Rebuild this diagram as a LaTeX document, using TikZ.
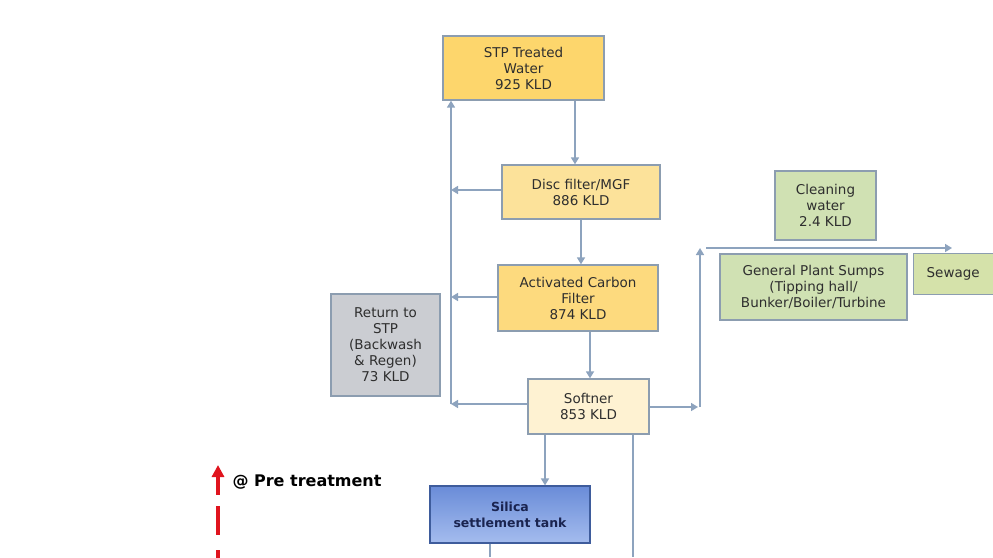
\documentclass[tikz,border=0pt]{standalone}
\usepackage{fontspec}
\setmainfont{DejaVu Sans}
\usetikzlibrary{arrows.meta}
\definecolor{linec}{HTML}{8DA3BE}
\definecolor{boxedge}{HTML}{8C9DB0}
\definecolor{gold}{HTML}{FDD66C}
\definecolor{lightgold}{HTML}{FCE29A}
\definecolor{midgold}{HTML}{FDDA7E}
\definecolor{paleyel}{HTML}{FEF2D2}
\definecolor{greybox}{HTML}{CBCDD2}
\definecolor{greenbox}{HTML}{D0E1B3}
\definecolor{sewagec}{HTML}{D5E2AA}
\definecolor{txt}{HTML}{2E2E2E}
\definecolor{silicatop}{HTML}{6A8CD8}
\definecolor{silicabot}{HTML}{A4BCEE}
\definecolor{silicaedge}{HTML}{3E5C9C}
\definecolor{navy}{HTML}{1A2450}
\definecolor{redarrow}{HTML}{E0141E}
\begin{document}
\begin{tikzpicture}[x=1pt,y=-1pt,
  box/.style={draw=boxedge,line width=1.3pt,align=center,inner sep=0pt,
    font=\fontsize{13.5}{16}\selectfont,text=txt},
  flow/.style={draw=linec,line width=1.6pt,-{Triangle[length=7pt,width=8pt]}},
  plain/.style={draw=linec,line width=1.6pt}]
\useasboundingbox[fill=white] (0,0) rectangle (993,557);

% process boxes
\node[box,fill=gold,minimum width=161pt,minimum height=64pt] (stp) at (523.5,68) {STP Treated\\Water\\925 KLD};
\node[box,fill=lightgold,minimum width=158pt,minimum height=54pt] (disc) at (581,192) {Disc filter/MGF\\886 KLD};
\node[box,fill=midgold,minimum width=160pt,minimum height=66pt] (acf) at (578,298) {Activated Carbon\\Filter\\874 KLD};
\node[box,fill=greybox,minimum width=109pt,minimum height=102pt] (ret) at (385.5,345) {Return to\\STP\\(Backwash\\\& Regen)\\73 KLD};
\node[box,fill=paleyel,minimum width=121pt,minimum height=55pt] (soft) at (588.5,406.5) {Softner\\853 KLD};
\node[box,fill=greenbox,minimum width=101pt,minimum height=69pt] (clean) at (825.5,205.5) {Cleaning\\water\\2.4 KLD};
\node[box,fill=greenbox,minimum width=187pt,minimum height=66pt] (sump) at (813.5,287) {General Plant Sumps\\(Tipping hall/\\Bunker/Boiler/Turbine};
\node[box,fill=sewagec,minimum width=84pt,minimum height=41pt,anchor=north west] (sew) at (913,253) {\hspace*{-5pt}Sewage};
\node[box,draw=silicaedge,line width=1.2pt,top color=silicatop,bottom color=silicabot,
  minimum width=160pt,minimum height=57pt,text=navy,font=\bfseries\fontsize{12.5}{16}\selectfont] (sil) at (510,514.5) {Silica\\settlement tank};

% return header and junctions
\coordinate (rbot) at (451,404);
\coordinate (rtop) at (stp.south -| rbot);
\coordinate (rdisc) at (451,190);
\coordinate (racf) at (451,297);
\coordinate (sright) at (700,407);
\coordinate (stop) at (700,248);
\coordinate (hstart) at (706,248);
\coordinate (hend) at (952,248);
\coordinate (silin) at (545,450);
\coordinate (sbot) at (633,557);
\coordinate (silbot) at (490,557);

\draw[flow] (rbot) -- (rtop);
\draw[flow] ([xshift=51.5pt]stp.south) -- ([xshift=-6pt]disc.north);
\draw[flow] (disc.west |- rdisc) -- (rdisc);
\draw[flow] (disc.south) -- (disc.south |- acf.north);
\draw[flow] (acf.west |- racf) -- (racf);
\draw[flow] ([xshift=12pt]acf.south) -- ([xshift=12pt]acf.south |- soft.north);
\draw[flow] (soft.west |- rbot) -- (rbot);
\draw[flow] (soft.east |- sright) -- ([xshift=-2pt]sright);
\draw[flow] (sright) -- (stop);
\draw[flow] (hstart) -- (hend);
\draw[flow] (soft.south -| silin) -- (sil.north -| silin);
\draw[plain] (soft.south -| sbot) -- (sbot);
\draw[plain] (sil.south -| silbot) -- (silbot);

% pre-treatment marker
\coordinate (ptip) at (218,465);
\coordinate (pend) at (218,560);
\draw[redarrow,line width=4pt,dash pattern=on 19pt off 11pt on 29pt off 15pt on 30pt off 15pt,
  {Triangle[length=12pt,width=12pt]}-] (ptip) -- (pend);
\node[anchor=west,font=\bfseries\fontsize{16}{18}\selectfont,text=black] (pre) at (229,482) {@ Pre treatment};
\end{tikzpicture}
\end{document}
